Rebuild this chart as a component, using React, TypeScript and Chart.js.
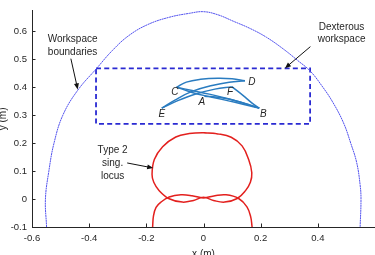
import React, { useEffect, useRef } from 'react';
import { Chart, registerables } from 'chart.js';

Chart.register(...registerables);

// ---------- data ----------
const xTickValues = [-0.6, -0.4, -0.2, 0, 0.2, 0.4];
const xTickLabels = ['-0.6', '-0.4', '-0.2', '0', '0.2', '0.4'];
const yTickValues = [-0.1, 0, 0.1, 0.2, 0.3, 0.4, 0.5, 0.6];
const yTickLabels = ['-0.1', '0', '0.1', '0.2', '0.3', '0.4', '0.5', '0.6'];

// workspace boundary (dotted blue)
const boundaryX = [-0.549, -0.553, -0.541, -0.523, -0.492, -0.44, -0.374, -0.32, -0.262, -0.195, -0.12, -0.05, 0.0, 0.05, 0.104, 0.165, 0.221, 0.28, 0.33, 0.373, 0.414, 0.453, 0.49, 0.515, 0.536, 0.548, 0.551, 0.548];
const boundaryY = [-0.1, 0.0, 0.1, 0.2, 0.3, 0.389, 0.467, 0.53, 0.584, 0.624, 0.65, 0.664, 0.67, 0.659, 0.636, 0.609, 0.578, 0.536, 0.495, 0.458, 0.405, 0.345, 0.272, 0.2, 0.13, 0.05, 0.0, -0.1];

// dexterous workspace rectangle
const rectX = [-0.376, 0.373, 0.373, -0.376, -0.376];
const rectY = [0.467, 0.467, 0.269, 0.269, 0.467];

// type 2 singularity locus: closed loop and lower arch
const loopX = [0.0, 0.05, 0.097, 0.135, 0.158, 0.169, 0.164, 0.147, 0.118, 0.074, 0.035, 0.0, -0.035, -0.074, -0.12, -0.155, -0.174, -0.18, -0.172, -0.143, -0.097, -0.05, 0.0, 0.05];
const loopY = [0.237, 0.233, 0.221, 0.19, 0.141, 0.094, 0.06, 0.03, 0.002, -0.011, -0.005, 0.006, -0.005, -0.011, 0.001, 0.03, 0.06, 0.088, 0.141, 0.187, 0.222, 0.234, 0.237, 0.233];
const archX = [-0.178, -0.175, -0.166, -0.149, -0.12, -0.079, -0.04, 0.0, 0.04, 0.079, 0.123, 0.152, 0.165, 0.17];
const archY = [-0.1, -0.06, -0.03, -0.011, 0.007, 0.015, 0.012, 0.004, 0.012, 0.015, 0.002, -0.028, -0.063, -0.1];

// trajectories between poses
const pathCDX = [-0.094, -0.06, -0.01, 0.05, 0.1, 0.145];
const pathCDY = [0.4, 0.418, 0.428, 0.432, 0.43, 0.423];
const pathEDX = [-0.146, -0.1, -0.04, 0.03, 0.09, 0.145];
const pathEDY = [0.325, 0.354, 0.385, 0.406, 0.418, 0.423];
const pathEFX = [-0.146, -0.09, -0.03, 0.04, 0.099];
const pathEFY = [0.325, 0.352, 0.375, 0.393, 0.402];
const pathCB1X = [-0.094, -0.04, 0.02, 0.1, 0.16, 0.195];
const pathCB1Y = [0.4, 0.388, 0.375, 0.355, 0.337, 0.325];
const pathCB2X = [-0.094, -0.04, 0.03, 0.11, 0.195];
const pathCB2Y = [0.4, 0.381, 0.364, 0.346, 0.325];
const pathABX = [0.003, 0.058, 0.128, 0.195];
const pathABY = [0.368, 0.363, 0.347, 0.325];
const pathFBX = [0.099, 0.139, 0.17, 0.195];
const pathFBY = [0.402, 0.37, 0.343, 0.325];

// pose labels
const poseNames = ['A', 'B', 'C', 'D', 'E', 'F'];
const poseLabelX = [-0.006, 0.209, -0.1, 0.169, -0.146, 0.093];
const poseLabelY = [0.347, 0.304, 0.382, 0.417, 0.304, 0.382];

// ---------- annotations (positions in data units) ----------
const annotations = [
  { lines: ['Workspace', 'boundaries'], x: -0.458, y: [0.572, 0.525], from: [-0.464, 0.502], to: [-0.44, 0.392] },
  { lines: ['Dexterous', 'workspace'], x: 0.483, y: [0.616, 0.57], from: [0.374, 0.545], to: [0.285, 0.468] },
  { lines: ['Type 2', 'sing.', 'locus'], x: -0.318, y: [0.175, 0.128, 0.081], from: [-0.267, 0.129], to: [-0.176, 0.111] },
];

const FONT = "'Liberation Sans', Arial, Helvetica, sans-serif";
const TEXT = '#262626';

const pts = (xs: number[], ys: number[]) => xs.map((x, i) => ({ x, y: ys[i] }));

const line = (xs: number[], ys: number[], color: string, width: number, extra: any = {}) => ({
  data: pts(xs, ys),
  showLine: true,
  borderColor: color,
  backgroundColor: color,
  borderWidth: width,
  pointRadius: 0,
  pointHoverRadius: 0,
  fill: false,
  tension: 0.4,
  ...extra,
});

const decor = {
  id: 'decor',
  afterDraw(chart: any) {
    const { ctx, chartArea } = chart;
    const xs = chart.scales.x;
    const ys = chart.scales.y;
    ctx.save();
    // inward ticks
    ctx.strokeStyle = TEXT;
    ctx.lineWidth = 1;
    xTickValues.forEach((v) => {
      const px = Math.round(xs.getPixelForValue(v)) + 0.5;
      ctx.beginPath();
      ctx.moveTo(px, chartArea.bottom);
      ctx.lineTo(px, chartArea.bottom - 3.5);
      ctx.stroke();
    });
    yTickValues.forEach((v) => {
      const py = Math.round(ys.getPixelForValue(v)) + 0.5;
      ctx.beginPath();
      ctx.moveTo(chartArea.left, py);
      ctx.lineTo(chartArea.left + 3.5, py);
      ctx.stroke();
    });
    // pose letters
    ctx.fillStyle = TEXT;
    ctx.font = `italic 10px ${FONT}`;
    ctx.textAlign = 'center';
    ctx.textBaseline = 'middle';
    poseNames.forEach((n, i) => {
      ctx.fillText(n, xs.getPixelForValue(poseLabelX[i]), ys.getPixelForValue(poseLabelY[i]));
    });
    // annotations
    ctx.font = `10px ${FONT}`;
    annotations.forEach((a) => {
      a.lines.forEach((t, i) => {
        ctx.fillText(t, xs.getPixelForValue(a.x), ys.getPixelForValue(a.y[i]));
      });
      const x1 = xs.getPixelForValue(a.from[0]);
      const y1 = ys.getPixelForValue(a.from[1]);
      const x2 = xs.getPixelForValue(a.to[0]);
      const y2 = ys.getPixelForValue(a.to[1]);
      const ang = Math.atan2(y2 - y1, x2 - x1);
      const hl = 6;
      const hw = 2.5;
      ctx.strokeStyle = '#111';
      ctx.fillStyle = '#111';
      ctx.lineWidth = 1;
      ctx.beginPath();
      ctx.moveTo(x1, y1);
      ctx.lineTo(x2 - Math.cos(ang) * hl * 0.8, y2 - Math.sin(ang) * hl * 0.8);
      ctx.stroke();
      ctx.beginPath();
      ctx.moveTo(x2, y2);
      ctx.lineTo(x2 - Math.cos(ang) * hl - Math.sin(ang) * hw, y2 - Math.sin(ang) * hl + Math.cos(ang) * hw);
      ctx.lineTo(x2 - Math.cos(ang) * hl + Math.sin(ang) * hw, y2 - Math.sin(ang) * hl - Math.cos(ang) * hw);
      ctx.closePath();
      ctx.fill();
      ctx.fillStyle = TEXT;
    });
    ctx.restore();
  },
};

export default function App() {
  const ref = useRef<HTMLCanvasElement | null>(null);

  useEffect(() => {
    if (!ref.current) return;
    Chart.defaults.font.family = FONT;
    const blue = '#2a7cc0';
    const red = '#e3201e';
    const chart = new Chart(ref.current, {
      type: 'scatter',
      data: {
        datasets: [
          line(boundaryX, boundaryY, '#5252ee', 1, { borderDash: [2, 0.5] }),
          line(rectX, rectY, '#2a2ad2', 1.8, { tension: 0, borderDash: [5, 3.2] }),
          line(loopX, loopY, red, 1.5),
          line(archX, archY, red, 1.5),
          line(pathCDX, pathCDY, blue, 1.5),
          line(pathEDX, pathEDY, blue, 1.5),
          line(pathEFX, pathEFY, blue, 1.5),
          line(pathCB1X, pathCB1Y, blue, 1.4),
          line(pathCB2X, pathCB2Y, blue, 1.4),
          line(pathABX, pathABY, blue, 1.5),
          line(pathFBX, pathFBY, blue, 1.5),
        ] as any,
      },
      options: {
        responsive: false,
        animation: false,
        devicePixelRatio: 1,
        layout: { padding: { top: 6, right: 0, left: 0, bottom: 0 } },
        plugins: { legend: { display: false }, tooltip: { enabled: false } },
        events: [],
        scales: {
          x: {
            type: 'linear',
            min: -0.6,
            max: 0.6,
            afterBuildTicks: (s: any) => { s.ticks = xTickValues.map((v) => ({ value: v })); },
            afterFit: (s: any) => { s.height = 28; },
            grid: { display: false, drawTicks: false },
            border: { display: true, color: TEXT, width: 1 },
            ticks: {
              color: TEXT,
              font: { size: 9.5, family: FONT },
              padding: 6,
              maxRotation: 0,
              autoSkip: false,
              callback: (_v: any, i: number) => xTickLabels[i],
            },
            title: { display: true, text: 'x (m)', color: TEXT, font: { size: 10, family: FONT }, padding: { top: 0, bottom: -5 } },
          },
          y: {
            type: 'linear',
            min: -0.1,
            max: 0.6735,
            afterBuildTicks: (s: any) => { s.ticks = yTickValues.map((v) => ({ value: v })); },
            afterFit: (s: any) => { s.width = 32; },
            grid: { display: false, drawTicks: false },
            border: { display: true, color: TEXT, width: 1 },
            ticks: {
              color: TEXT,
              font: { size: 9.5, family: FONT },
              padding: 5,
              autoSkip: false,
              callback: (_v: any, i: number) => yTickLabels[i],
            },
            title: { display: true, text: 'y (m)', color: TEXT, font: { size: 10, family: FONT }, padding: { top: -2.5, bottom: 0 } },
          },
        },
      } as any,
      plugins: [decor],
    });
    return () => chart.destroy();
  }, []);

  return (
    <div style={{ position: 'fixed', left: 0, top: 0, width: 375, height: 255, background: '#fff' }}>
      <canvas ref={ref} width={375} height={255} style={{ display: 'block' }} />
    </div>
  );
}
